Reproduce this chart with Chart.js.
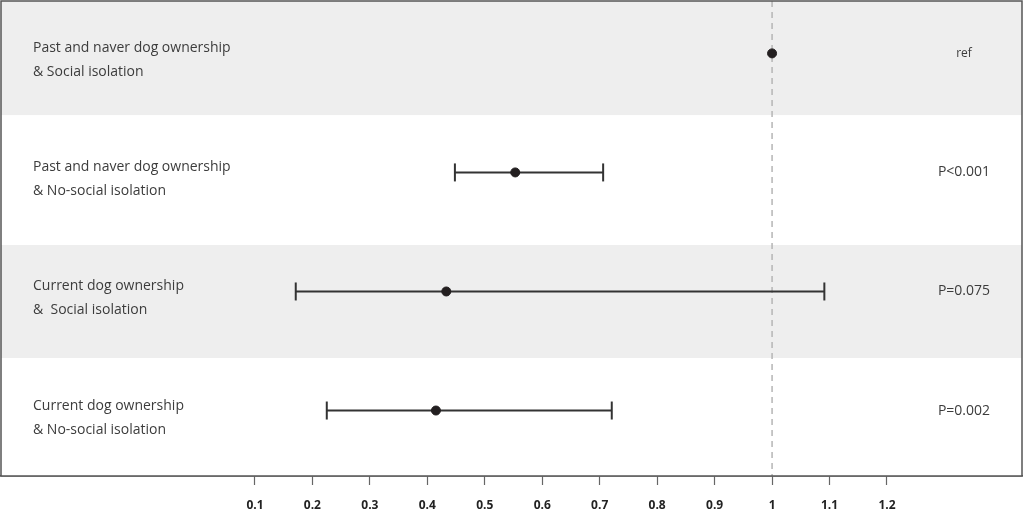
<!DOCTYPE html>
<html>
<head>
<meta charset="utf-8">
<script src="https://cdn.jsdelivr.net/npm/chart.js@4"></script>
<style>
  html, body { margin: 0; padding: 0; background: #fff; }
  #wrap { width: 1024px; height: 511px; position: relative; }
</style>
</head>
<body>
<div id="wrap"><canvas id="grafica"></canvas></div>
<script>
// data
const rowLabels = [
    ["Past and naver dog ownership", "& Social isolation"],
    ["Past and naver dog ownership", "& No-social isolation"],
    ["Current dog ownership", "&  Social isolation"],
    ["Current dog ownership", "& No-social isolation"]
];
const estimates = [1, 0.553, 0.433, 0.415];
const lowerCI = [null, 0.448, 0.171, 0.225];
const upperCI = [null, 0.706, 1.091, 0.721];
const pLabels = ["ref", "P<0.001", "P=0.075", "P=0.002"];
const xTicks = [0.1, 0.2, 0.3, 0.4, 0.5, 0.6, 0.7, 0.8, 0.9, 1, 1.1, 1.2];
const refValue = 1;

// row band edges (in row units) and colours
const bandEdges = [-0.44, 0.52, 1.61, 2.56, 3.55];
const bandColors = ["#eeeeee", "#ffffff", "#eeeeee", "#ffffff"];
const txtFont = '14px "Open Sans", sans-serif';

let pontos = estimates.map(function (v, i) { return { x: v, y: i }; });

let barras = [];
estimates.forEach(function (v, i) {
    if (lowerCI[i] === null) return;
    barras.push({
        type: 'line',
        data: [{ x: lowerCI[i], y: i }, { x: upperCI[i], y: i }],
        borderColor: '#333',
        borderWidth: 2,
        pointStyle: 'line',
        rotation: 90,
        pointRadius: 9,
        pointBorderWidth: 2,
        pointBorderColor: '#333',
        order: 1
    });
});

const fundo = {
    id: 'fundo',
    beforeDatasetsDraw(chart) {
        const ctx = chart.ctx, a = chart.chartArea, y = chart.scales.y;
        ctx.save();
        for (let i = 0; i < bandColors.length; i++) {
            let t = y.getPixelForValue(bandEdges[i]);
            let b = y.getPixelForValue(bandEdges[i + 1]);
            ctx.fillStyle = bandColors[i];
            ctx.fillRect(a.left, t, a.right - a.left, b - t);
        }
        ctx.restore();
    },
    afterDraw(chart) {
        const ctx = chart.ctx, a = chart.chartArea, y = chart.scales.y;
        ctx.save();
        ctx.fillStyle = '#3c3c3c';
        ctx.font = txtFont;
        ctx.textBaseline = 'middle';
        rowLabels.forEach(function (l, i) {
            let py = y.getPixelForValue(i);
            ctx.textAlign = 'left';
            ctx.fillText(l[0], 33, py - 5);
            ctx.fillText(l[1], 33, py + 19);
        });
        ctx.textAlign = 'center';
        pLabels.forEach(function (p, i) {
            ctx.font = i === 0 ? '12px "Open Sans", sans-serif' : txtFont;
            ctx.fillText(p, 964, y.getPixelForValue(i));
        });
        ctx.strokeStyle = '#555';
        ctx.lineWidth = 1.5;
        ctx.strokeRect(a.left, a.top, a.right - a.left, a.bottom - a.top);
        ctx.restore();
    }
};

let grafica = new Chart(document.getElementById('grafica'), {
    type: 'scatter',
    data: {
        datasets: [
            {
                data: pontos,
                backgroundColor: '#231f20',
                borderColor: '#231f20',
                pointRadius: 4.5,
                order: 0
            },
            ...barras,
            {
                type: 'line',
                data: [{ x: refValue, y: -0.44 }, { x: refValue, y: 3.55 }],
                borderColor: '#b5b5b5',
                borderWidth: 1.5,
                borderDash: [6, 5],
                pointRadius: 0,
                order: 2
            }
        ]
    },
    plugins: [fundo],
    options: {
        responsive: true,
        maintainAspectRatio: false,
        animation: false,
        layout: { autoPadding: false, padding: { top: 1, left: 1, right: 2, bottom: 0 } },
        plugins: { legend: { display: false }, tooltip: { enabled: false } },
        scales: {
            x: {
                type: 'linear',
                min: -0.342,
                max: 1.435,
                afterBuildTicks: function (axis) {
                    axis.ticks = xTicks.map(function (v) { return { value: v }; });
                },
                afterFit: function (axis) { axis.height = 35; },
                grid: { drawOnChartArea: false, drawTicks: true, tickLength: 9, tickColor: '#666', tickWidth: 1.2 },
                border: { display: true, color: '#555', width: 1.5 },
                ticks: {
                    autoSkip: false,
                    maxRotation: 0,
                    padding: 13,
                    color: '#222',
                    font: { family: '"Open Sans", sans-serif', size: 12, weight: 'bold' },
                    callback: function (v) { return String(v); }
                }
            },
            y: {
                type: 'linear',
                display: false,
                reverse: true,
                min: -0.44,
                max: 3.55
            }
        }
    }
});
</script>
</body>
</html>
